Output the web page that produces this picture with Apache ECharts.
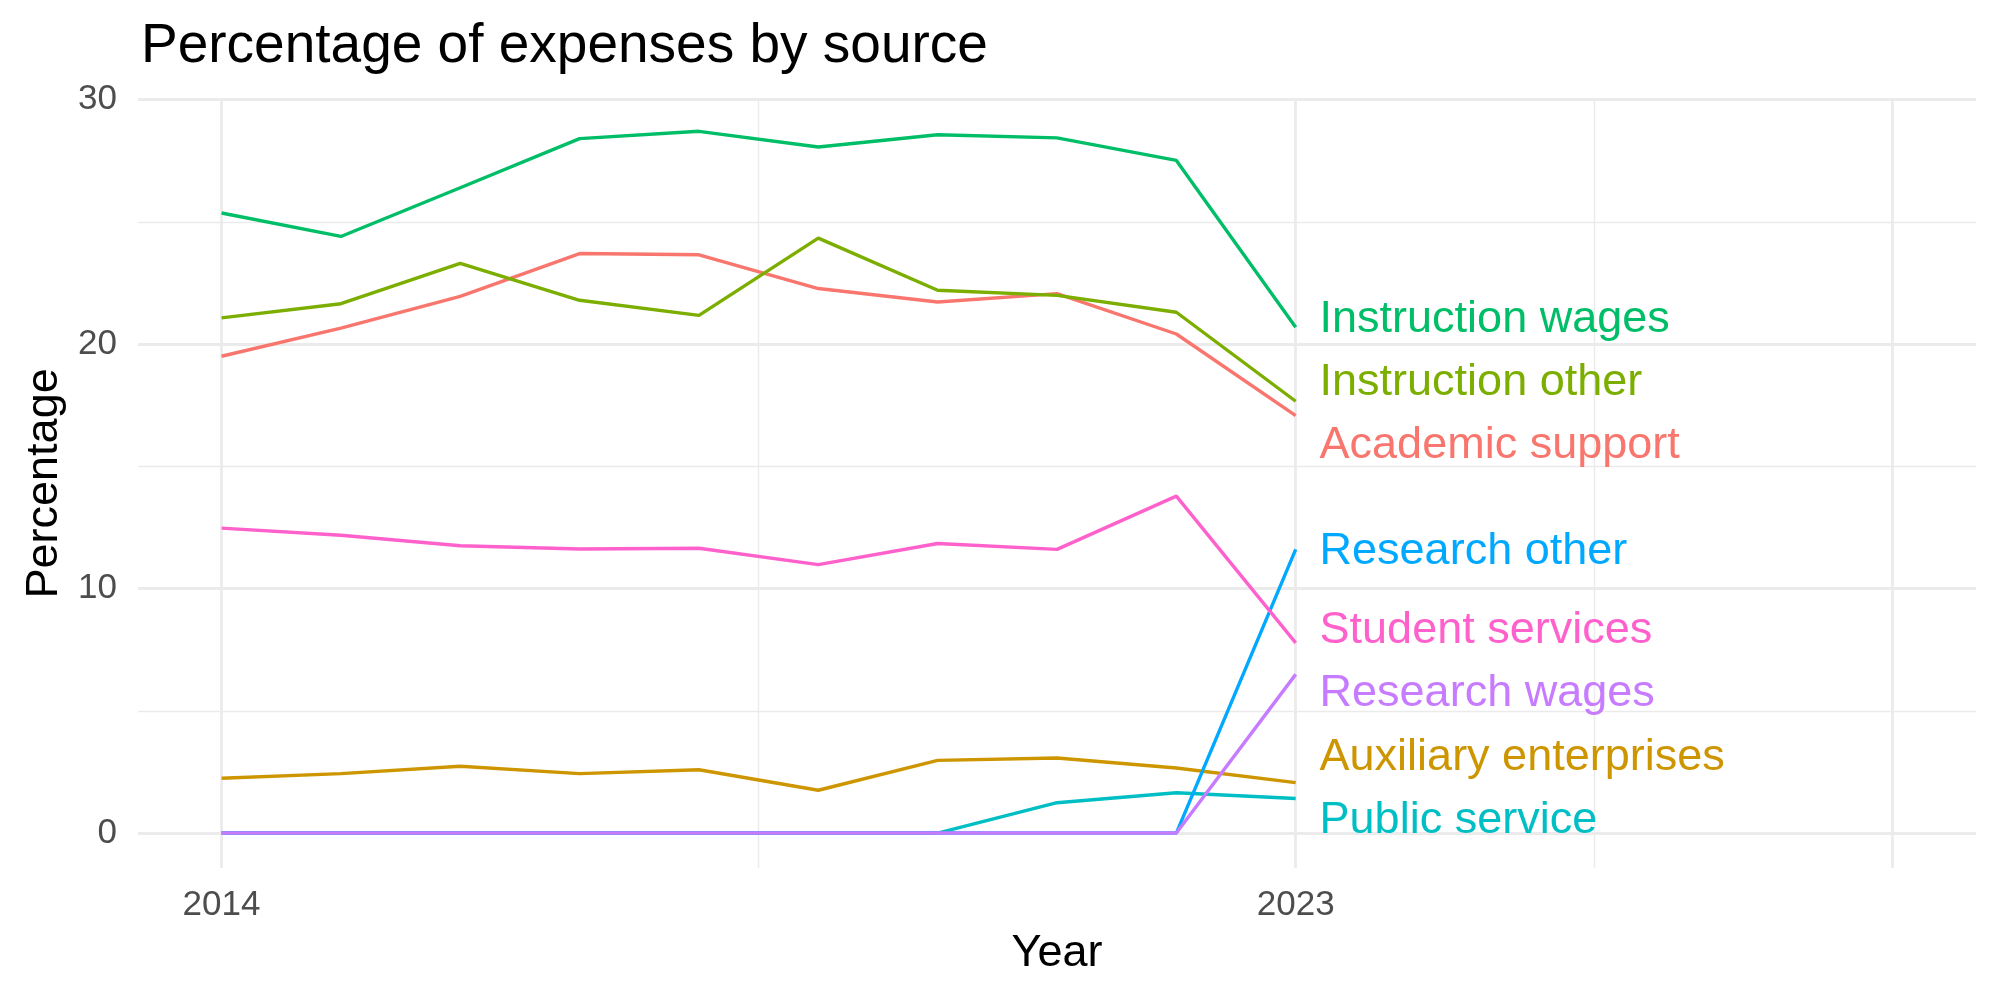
<!DOCTYPE html>
<html>
<head>
<meta charset="utf-8">
<title>Percentage of expenses by source</title>
<script src="https://cdn.jsdelivr.net/npm/echarts@6/dist/echarts.min.js"></script>
<style>
    html, body { margin: 0; padding: 0; background: #fff; }
    #chart { width: 2000px; height: 1000px; }
</style>
</head>
<body>
<div id="chart"></div>
<script>
// years on the x axis
var years = [2014, 2015, 2016, 2017, 2018, 2019, 2020, 2021, 2022, 2023];

// percentage by source
var academicSupport  = [19.5, 20.65, 21.95, 23.7, 23.65, 22.27, 21.72, 22.06, 20.41, 17.07];
var auxiliary        = [2.24, 2.43, 2.73, 2.43, 2.59, 1.75, 2.97, 3.07, 2.66, 2.06];
var instructionOther = [21.07, 21.65, 23.3, 21.79, 21.17, 24.33, 22.2, 21.99, 21.3, 17.66];
var instructionWages = [25.36, 24.4, 26.39, 28.4, 28.7, 28.06, 28.56, 28.43, 27.51, 20.69];
var publicService    = [0, 0, 0, 0, 0, 0, 0, 1.24, 1.65, 1.41];
var researchOther    = [0, 0, 0, 0, 0, 0, 0, 0, 0, 11.6];
var researchWages    = [0, 0, 0, 0, 0, 0, 0, 0, 0, 6.49];
var studentServices  = [12.47, 12.18, 11.75, 11.62, 11.65, 10.98, 11.84, 11.6, 13.78, 7.78];

var names = ['Academic support', 'Auxiliary enterprises', 'Instruction other', 'Instruction wages',
    'Public service', 'Research other', 'Research wages', 'Student services'];
var values = [academicSupport, auxiliary, instructionOther, instructionWages,
    publicService, researchOther, researchWages, studentServices];
var colors = ['#F8766D', '#CD9600', '#7CAE00', '#00BE67', '#00BFC4', '#00A9FF', '#C77CFF', '#FF61CC'];

// where the (repelled) text labels sit
var labelX = 2023.2;
var labelY = [15.84, 3.07, 18.43, 21.0, 0.51, 11.52, 5.7, 8.29];

var xTicks = [2014, 2023];
var yTicks = [0, 10, 20, 30];
var xMajor = [2014, 2023, 2028];
var xMinor = [2018.5, 2025.5];
var yMajor = [0, 10, 20, 30];
var yMinor = [5, 15, 25];

var FONT = 'Liberation Sans, Arial, Helvetica, sans-serif';
var GRID = '#EBEBEB';

var gridLines = [];
xMajor.forEach(function (v) { gridLines.push({ xAxis: v, lineStyle: { width: 2.8 } }); });
xMinor.forEach(function (v) { gridLines.push({ xAxis: v, lineStyle: { width: 1.4 } }); });
yMajor.forEach(function (v) { gridLines.push({ yAxis: v, lineStyle: { width: 2.8 } }); });
yMinor.forEach(function (v) { gridLines.push({ yAxis: v, lineStyle: { width: 1.4 } }); });

var seriesData = [];
for (var i = 0; i < names.length; i++) {
    var pts = [];
    for (var j = 0; j < years.length; j++) {
        pts.push([years[j], values[i][j]]);
    }
    var s = {
        name: names[i],
        type: 'line',
        data: pts,
        showSymbol: false,
        symbol: 'none',
        z: 3,
        lineStyle: { color: colors[i], width: 3.4 },
        itemStyle: { color: colors[i] }
    };
    if (i === 0) {
        s.markLine = {
            silent: true,
            symbol: 'none',
            z: 1,
            animation: false,
            label: { show: false },
            lineStyle: { color: GRID, type: 'solid' },
            emphasis: { disabled: true },
            data: gridLines
        };
    }
    seriesData.push(s);
}

var labelData = [];
for (var k = 0; k < names.length; k++) {
    labelData.push({
        value: [labelX, labelY[k]],
        name: names[k],
        label: { color: colors[k] }
    });
}
seriesData.push({
    name: 'labels',
    type: 'scatter',
    symbolSize: 0,
    silent: true,
    z: 4,
    itemStyle: { opacity: 1 },
    data: labelData,
    label: {
        show: true,
        position: 'right',
        distance: 0,
        fontSize: 45,
        fontFamily: FONT,
        formatter: function (p) { return p.name; }
    }
});

var option = {
    animation: false,
    backgroundColor: '#ffffff',
    title: {
        text: 'Percentage of expenses by source',
        left: 136,
        top: 14,
        textStyle: {
            fontSize: 55,
            fontWeight: 'normal',
            color: '#000000',
            fontFamily: FONT
        }
    },
    grid: {
        left: 138,
        right: 24,
        top: 98.8,
        bottom: 132
    },
    xAxis: {
        type: 'value',
        min: 2013.3,
        max: 2028.7,
        name: 'Year',
        nameLocation: 'middle',
        nameGap: 63,
        nameTextStyle: { fontSize: 45, color: '#000000', fontFamily: FONT },
        axisLine: { show: false },
        axisTick: { show: false },
        splitLine: { show: false },
        axisLabel: {
            customValues: xTicks,
            formatter: function (v) { return String(v); },
            fontSize: 35,
            color: '#4D4D4D',
            fontFamily: FONT,
            margin: 20
        }
    },
    yAxis: {
        type: 'value',
        min: -1.43,
        max: 30.03,
        name: 'Percentage',
        nameLocation: 'middle',
        nameRotate: 90,
        nameGap: 69,
        nameTextStyle: { fontSize: 45, color: '#000000', fontFamily: FONT },
        axisLine: { show: false },
        axisTick: { show: false },
        splitLine: { show: false },
        axisLabel: {
            customValues: yTicks,
            fontSize: 35,
            color: '#4D4D4D',
            fontFamily: FONT,
            margin: 21
        }
    },
    series: seriesData
};

var myChart = echarts.init(document.getElementById('chart'));
myChart.setOption(option);
</script>
</body>
</html>
